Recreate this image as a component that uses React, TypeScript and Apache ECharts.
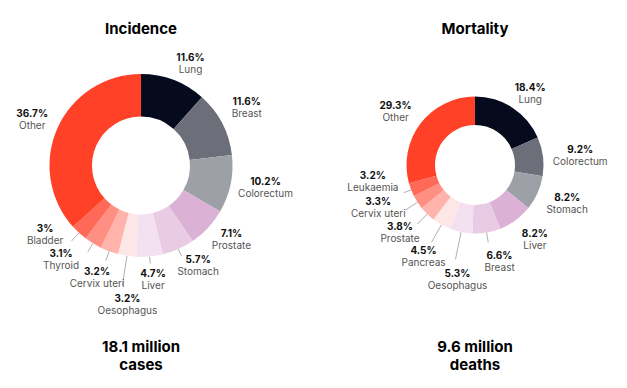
import React, { useEffect, useRef } from "react";
import * as echarts from "echarts";

const incidenceCategories = ["Lung", "Breast", "Colorectum", "Prostate", "Stomach", "Liver", "Oesophagus", "Cervix uteri", "Thyroid", "Bladder", "Other"];
const incidenceValues = [11.6, 11.6, 10.2, 7.1, 5.7, 4.7, 3.2, 3.2, 3.1, 3, 36.7];
const mortalityCategories = ["Lung", "Colorectum", "Stomach", "Liver", "Breast", "Oesophagus", "Pancreas", "Prostate", "Cervix uteri", "Leukaemia", "Other"];
const mortalityValues = [18.4, 9.2, 8.2, 8.2, 6.6, 5.3, 4.5, 3.8, 3.3, 3.2, 29.3];
const titles = ["Incidence", "Mortality"];
const totals = ["18.1 million\ncases", "9.6 million\ndeaths"];

const palette = ["#050a1c", "#6c6f79", "#9da0a7", "#dcb1d6", "#e9cbe4", "#f3e0f0", "#fde6e6", "#ffb3ab", "#ff8f82", "#ff6a58", "#ff4128"];

// label layout tweaks (nudges from radial position) and leader line lengths
const incNudge = [[7.5, 8], [1, -4], [9, -3], [4, -7], [9, -8], [1, -4], [4.5, 22], [-3, 1], [-18, -7], [-16, -18], [-1, 2]];
const morNudge = [[0, 13], [5, 3], [0, -3], [0, -7], [7.5, -3.5], [3, 15], [-2, 3], [-4.5, -5], [-12, -12.5], [-8, -20.5], [1, 7.5]];
const incLeader = [0, 0, 0, 0, 8, 7, 30, 10, 10, 11, 0];
const morLeader = [0, 0, 0, 0, 10, 28, 20, 14, 14, 8, 0];

const FONT = "Inter, 'Noto Sans', sans-serif";

function donut(cats: string[], vals: number[], leader: number[], center: number[], r0: number, r: number) {
  return {
    type: "pie",
    center,
    radius: [r0, r],
    startAngle: 90,
    clockwise: true,
    avoidLabelOverlap: false,
    silent: true,
    label: { show: true, position: "outside", formatter: "", fontSize: 1 },
    labelLine: { show: false, length: 10, length2: 0, lineStyle: { color: "#9a9a9a", width: 0.8 } },
    data: cats.map((name, i) => ({
      name,
      value: vals[i],
      itemStyle: { color: palette[i] },
      label: { show: leader[i] > 0 },
      labelLine: leader[i] > 0 ? { show: true, length: leader[i], length2: 0 } : { show: false },
    })),
  };
}

function labelRing(cats: string[], vals: number[], nudge: number[][], center: number[], R: number) {
  return {
    type: "pie",
    center,
    radius: [0, 2 * R],
    startAngle: 90,
    clockwise: true,
    avoidLabelOverlap: false,
    silent: true,
    itemStyle: { color: "rgba(0,0,0,0)" },
    label: {
      show: true,
      position: "inside",
      formatter: (p: any) => `{p|${p.value}%}\n{n|${p.name}}`,
      rich: {
        p: { fontFamily: FONT, fontWeight: "bold", fontSize: 10, color: "#111", lineHeight: 12, align: "center" },
        n: { fontFamily: FONT, fontSize: 10, color: "#555", lineHeight: 12, align: "center" },
      },
    },
    labelLine: { show: false },
    labelLayout: (p: any) => ({ dx: nudge[p.dataIndex][0], dy: nudge[p.dataIndex][1] }),
    data: cats.map((name, i) => ({ name, value: vals[i] })),
  };
}

export default function App() {
  const ref = useRef<HTMLDivElement>(null);
  useEffect(() => {
    if (!ref.current) return;
    const chart = echarts.init(ref.current, undefined, { renderer: "svg" });
    const cx = [141, 475];
    const textStyle = (t: string, x: number, y: number, lh: number) => ({
      type: "text",
      x,
      y,
      style: {
        text: t,
        fill: "#000",
        fontSize: 15,
        fontWeight: "bold",
        fontFamily: FONT,
        align: "center",
        verticalAlign: "middle",
        lineHeight: lh,
      },
    });
    chart.setOption({
      animation: false,
      backgroundColor: "#fff",
      graphic: [
        textStyle(titles[0], cx[0], 28, 18),
        textStyle(titles[1], cx[1], 28, 18),
        textStyle(totals[0], cx[0], 355, 18),
        textStyle(totals[1], cx[1], 355, 18),
      ],
      series: [
        donut(incidenceCategories, incidenceValues, incLeader, [cx[0], 165.5], 49, 91.5),
        donut(mortalityCategories, mortalityValues, morLeader, [cx[1], 165], 40, 68.5),
        labelRing(incidenceCategories, incidenceValues, incNudge, [cx[0], 165.5], 115),
        labelRing(mortalityCategories, mortalityValues, morNudge, [cx[1], 165], 98),
      ],
    });
    return () => chart.dispose();
  }, []);
  return <div ref={ref} style={{ position: "fixed", left: 0, top: 0, width: 627, height: 388 }} />;
}
